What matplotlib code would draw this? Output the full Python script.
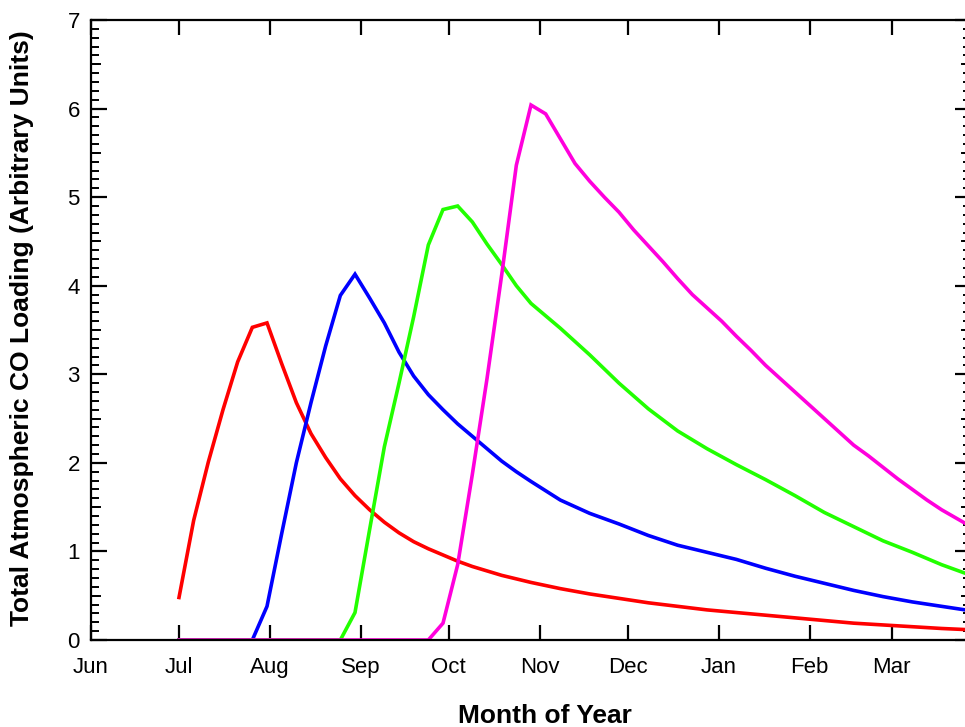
import numpy as np
import matplotlib
matplotlib.use("Agg")
import matplotlib.pyplot as plt

plt.rcParams['font.family'] = ['Liberation Sans', 'DejaVu Sans']

# Days since 1 June
month_days = [0, 30, 61, 92, 122, 153, 183, 214, 245, 273]
month_labels = ['Jun', 'Jul', 'Aug', 'Sep', 'Oct', 'Nov', 'Dec', 'Jan', 'Feb', 'Mar']

red_days = [30, 35, 40, 45, 50, 55, 60, 65, 70, 75, 80, 85, 90, 95, 100, 105, 110,
            115, 120, 125, 130, 135, 140, 145, 150, 160, 170, 180, 190, 200, 210,
            220, 230, 240, 250, 260, 270, 280, 290, 300]
red_vals = [0.48, 1.35, 2.01, 2.6, 3.14, 3.53, 3.58, 3.12, 2.68, 2.33, 2.06, 1.82,
            1.63, 1.47, 1.33, 1.21, 1.11, 1.03, 0.96, 0.89, 0.83, 0.78, 0.73, 0.69,
            0.65, 0.58, 0.52, 0.47, 0.42, 0.38, 0.34, 0.31, 0.28, 0.25, 0.22, 0.19,
            0.17, 0.15, 0.13, 0.115]

blue_days = [30, 55, 60, 65, 70, 75, 80, 85, 90, 95, 100, 105, 110, 115, 120, 125,
             130, 135, 140, 145, 150, 160, 170, 180, 190, 200, 210, 220, 230, 240,
             250, 260, 270, 280, 290, 300]
blue_vals = [0.0, 0.0, 0.38, 1.2, 2.0, 2.68, 3.32, 3.89, 4.13, 3.86, 3.58, 3.25,
             2.98, 2.77, 2.6, 2.44, 2.3, 2.16, 2.02, 1.9, 1.79, 1.58, 1.43, 1.31,
             1.18, 1.07, 0.99, 0.91, 0.81, 0.72, 0.64, 0.56, 0.49, 0.43, 0.38, 0.33]

green_days = [30, 85, 90, 95, 100, 105, 110, 115, 120, 125, 130, 135, 140, 145, 150,
              160, 170, 180, 190, 200, 210, 220, 230, 240, 250, 260, 270, 280, 290, 300]
green_vals = [0.0, 0.0, 0.31, 1.25, 2.18, 2.9, 3.65, 4.46, 4.86, 4.9, 4.72, 4.47,
              4.24, 4.0, 3.8, 3.52, 3.22, 2.9, 2.61, 2.36, 2.16, 1.98, 1.81, 1.63,
              1.44, 1.28, 1.12, 0.99, 0.85, 0.73]

magenta_days = [30, 115, 120, 125, 130, 135, 140, 145, 150, 155, 160, 165, 170, 175,
                180, 185, 190, 195, 200, 205, 210, 215, 220, 225, 230, 235, 240, 245,
                250, 255, 260, 265, 270, 275, 280, 285, 290, 300]
magenta_vals = [0.0, 0.0, 0.19, 0.85, 1.87, 2.95, 4.12, 5.36, 6.04, 5.94, 5.66, 5.38,
                5.18, 5.0, 4.83, 4.63, 4.45, 4.27, 4.08, 3.9, 3.75, 3.6, 3.43, 3.27,
                3.1, 2.95, 2.8, 2.65, 2.5, 2.35, 2.2, 2.08, 1.95, 1.82, 1.7, 1.58,
                1.47, 1.28]

W, H = 965, 727
fig = plt.figure(figsize=(W / 100, H / 100), dpi=100)
ax_l, ax_r, ax_t, ax_b = 91, 971, 20, 640
ax = fig.add_axes([ax_l / W, 1 - ax_b / H, (ax_r - ax_l) / W, (ax_b - ax_t) / H])

lw = 2.6
ax.plot(red_days, red_vals, color='#ff0000', lw=lw, solid_joinstyle='miter')
ax.plot(blue_days, blue_vals, color='#0000ff', lw=lw, solid_joinstyle='miter')
ax.plot(green_days, green_vals, color='#22ff00', lw=lw, solid_joinstyle='miter')
ax.plot(magenta_days, magenta_vals, color='#ff00dd', lw=lw, solid_joinstyle='miter')

ax.set_xlim(0, 300)
ax.set_ylim(0, 7)

ax.set_xticks(month_days)
ax.set_xticklabels(month_labels)
ax.set_yticks(range(0, 8))
ax.set_yticks(np.arange(0, 7.01, 0.1), minor=True)

for s in ax.spines.values():
    s.set_linewidth(1.6)

ax.tick_params(axis='x', which='major', direction='in', length=11, width=1.6,
               top=True, bottom=True, labelsize=16, pad=12)
ax.tick_params(axis='y', which='major', direction='in', length=11.5, width=1.6,
               left=True, right=True, labelsize=16, pad=8)
ax.tick_params(axis='y', which='minor', direction='in', length=6, width=1.4,
               left=True, right=True)
ax.tick_params(axis='x', which='minor', bottom=False, top=False)

# medium half-unit ticks
tr = ax.get_yaxis_transform()
frac = 9 / (ax_r - ax_l)
for v in np.arange(0.5, 7, 1.0):
    ax.plot([0, frac], [v, v], transform=tr, color='black', lw=1.4, clip_on=False)
    ax.plot([1 - frac, 1], [v, v], transform=tr, color='black', lw=1.4, clip_on=False)

fig.text(545 / W, 1 - 716 / H, 'Month of Year', fontsize=19, fontweight='bold',
         ha='center', va='center')
fig.text(22 / W, 1 - 328 / H, 'Total Atmospheric CO Loading (Arbitrary Units)',
         fontsize=19, fontweight='bold', rotation=90, ha='center', va='center')

fig.savefig('out.png', dpi=100)
